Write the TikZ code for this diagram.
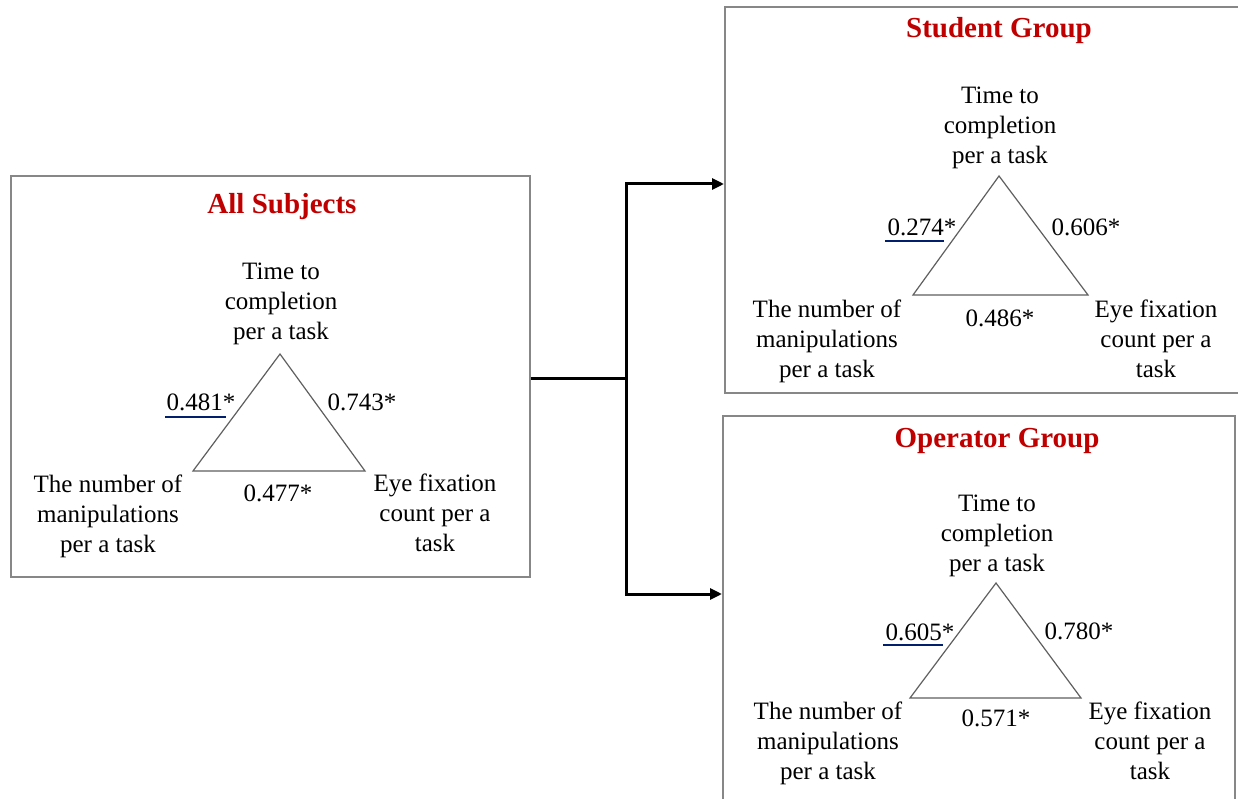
\documentclass[tikz,border=0pt]{standalone}
\usepackage{fontspec}
\setmainfont{Liberation Serif}
\usetikzlibrary{arrows.meta}
\definecolor{titlered}{RGB}{192,0,0}
\definecolor{ulblue}{RGB}{0,32,110}
\definecolor{boxgray}{RGB}{135,135,135}
\definecolor{trigray}{RGB}{95,95,95}
\begin{document}
\begin{tikzpicture}[x=1pt,y=-1pt,
  panel/.style={draw=boxgray, line width=1.8pt, fill=white, inner sep=0pt, anchor=north west},
  ttl/.style={font=\fontsize{29}{34}\selectfont\bfseries, text=titlered, inner sep=0pt},
  lbl/.style={font=\fontsize{25}{30}\selectfont, align=center, inner sep=0pt},
  num/.style={font=\fontsize{25}{30}\selectfont, inner sep=0pt},
  tri/.style={draw=trigray, line width=1.2pt, line join=miter},
  uline/.style={draw=ulblue, line width=2.5pt},
  conn/.style={line width=3pt, draw=black},
  tipped/.style={{Triangle[length=12pt,width=11pt]}-{Triangle[length=12pt,width=11pt]}}]
\clip (0,0) rectangle (1238,799);
\fill[white] (0,0) rectangle (1238,799);

% panels
\node[panel, minimum width=519pt, minimum height=401pt] (allbox) at (10,175) {};
\node[panel, minimum width=522pt, minimum height=386pt] (stubox) at (724,6) {};
\node[panel, minimum width=512pt, minimum height=400pt] (opbox) at (722,415) {};

% ---- All Subjects
\node[ttl] (t1) at (282,207) {All Subjects};
\coordinate (a1) at (280,354);
\coordinate (a2) at (193,471);
\coordinate (a3) at (365,471);
\draw[tri] (a1) -- (a2) -- (a3) -- cycle;
\node[lbl] (top1) at (281,304) {Time to\\completion\\per a task};
\node[lbl] (left1) at (108,516) {The number of\\manipulations\\per a task};
\node[lbl] (right1) at (435,513) {Eye fixation\\count per a\\task};
\node[num] (e1a) at (201,402) {0.481*};
\node[num] (e1b) at (362,402) {0.743*};
\node[num] (e1c) at (278,493) {0.477*};
\coordinate (u1a) at (165,417);
\coordinate (u1b) at (226,417);
\draw[uline] (u1a) -- (u1b);

% ---- Student Group
\node[ttl] (t2) at (999,31) {Student Group};
\coordinate (b1) at (999,176);
\coordinate (b2) at (913,295);
\coordinate (b3) at (1088,295);
\draw[tri] (b1) -- (b2) -- (b3) -- cycle;
\node[lbl] (top2) at (1000,128) {Time to\\completion\\per a task};
\node[lbl] (left2) at (827,341) {The number of\\manipulations\\per a task};
\node[lbl] (right2) at (1156,339) {Eye fixation\\count per a\\task};
\node[num] (e2a) at (922,227) {0.274*};
\node[num] (e2b) at (1086,227) {0.606*};
\node[num] (e2c) at (1000,318) {0.486*};
\coordinate (u2a) at (885,241);
\coordinate (u2b) at (944,241);
\draw[uline] (u2a) -- (u2b);

% ---- Operator Group
\node[ttl] (t3) at (997,441) {Operator Group};
\coordinate (c1) at (996,583);
\coordinate (c2) at (910,698);
\coordinate (c3) at (1081,698);
\draw[tri] (c1) -- (c2) -- (c3) -- cycle;
\node[lbl] (top3) at (997,536) {Time to\\completion\\per a task};
\node[lbl] (left3) at (828,743) {The number of\\manipulations\\per a task};
\node[lbl] (right3) at (1150,741) {Eye fixation\\count per a\\task};
\node[num] (e3a) at (920,632) {0.605*};
\node[num] (e3b) at (1079,631) {0.780*};
\node[num] (e3c) at (996,718) {0.571*};
\coordinate (u3a) at (883,645);
\coordinate (u3b) at (943,645);
\draw[uline] (u3a) -- (u3b);

% ---- connectors
\coordinate (jmid) at (626,378);
\coordinate (jtop) at (626,184);
\coordinate (jbot) at (626,594);
\draw[conn] (allbox.east |- jmid) -- (jmid);
\draw[conn, tipped] (stubox.west |- jtop) -- (jtop) -- (jbot) -- (opbox.west |- jbot);
\end{tikzpicture}
\end{document}
